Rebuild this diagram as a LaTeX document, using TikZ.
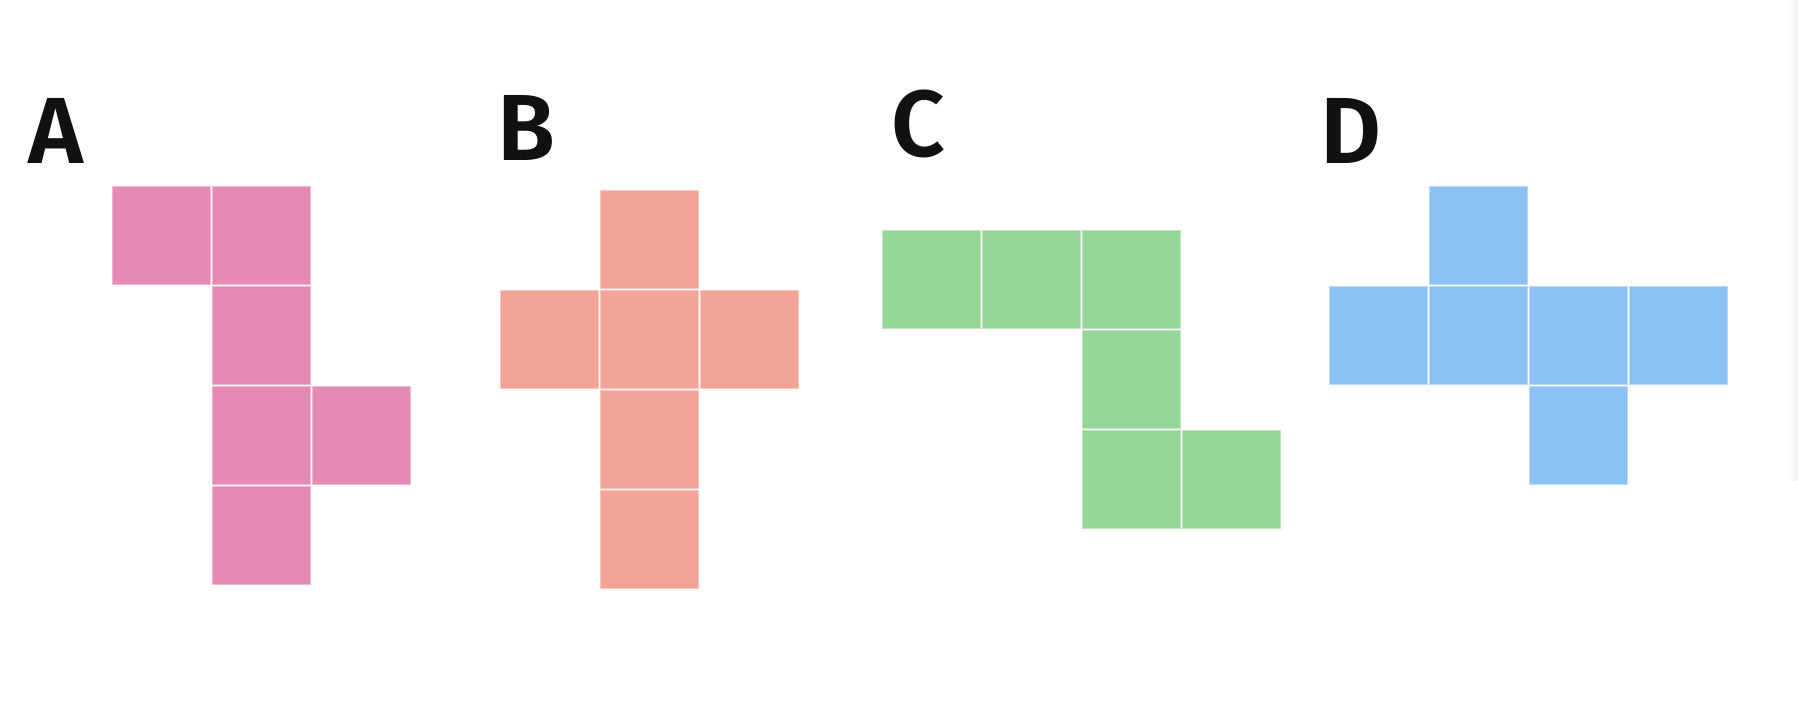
\documentclass[tikz,border=0pt]{standalone}
\usepackage{fontspec}
\newfontfamily\lblfont{Fira Sans SemiBold}
\definecolor{cA}{HTML}{E48AB4}
\definecolor{cB}{HTML}{F4A496}
\definecolor{cC}{HTML}{95D595}
\definecolor{cD}{HTML}{8AC2F5}
\definecolor{ink}{HTML}{111111}
\tikzset{
  lbl/.style={anchor=base west, inner sep=0pt, text=ink, font=\fontsize{94}{94}\lblfont},
  sq/.style={line width=1pt},
}
\newcommand{\cell}[3]{\filldraw[sq, fill=#1, draw=#1!60!white] (#2,#3) rectangle ++(98,98);}
\begin{document}
\begin{tikzpicture}[x=1pt,y=-1pt]
\useasboundingbox (0,0) rectangle (1798,712);
\fill[white] (0,0) rectangle (1798,712);
\shade[left color=white, right color=black!5] (1788,0) rectangle (1798,480);
% labels
\node[lbl] (la) at (28,163) {A};
\node[lbl] (lb) at (497,160) {B};
\node[lbl] (lc) at (891,156) {C};
\node[lbl] (ld) at (1320,163) {D};
% A
\cell{cA}{112}{186}
\cell{cA}{212}{186}
\cell{cA}{212}{286}
\cell{cA}{212}{386}
\cell{cA}{312}{386}
\cell{cA}{212}{486}
% B
\cell{cB}{600}{190}
\cell{cB}{500}{290}
\cell{cB}{600}{290}
\cell{cB}{700}{290}
\cell{cB}{600}{390}
\cell{cB}{600}{490}
% C
\cell{cC}{882}{230}
\cell{cC}{982}{230}
\cell{cC}{1082}{230}
\cell{cC}{1082}{330}
\cell{cC}{1082}{430}
\cell{cC}{1182}{430}
% D
\cell{cD}{1429}{186}
\cell{cD}{1329}{286}
\cell{cD}{1429}{286}
\cell{cD}{1529}{286}
\cell{cD}{1629}{286}
\cell{cD}{1529}{386}
\end{tikzpicture}
\end{document}
